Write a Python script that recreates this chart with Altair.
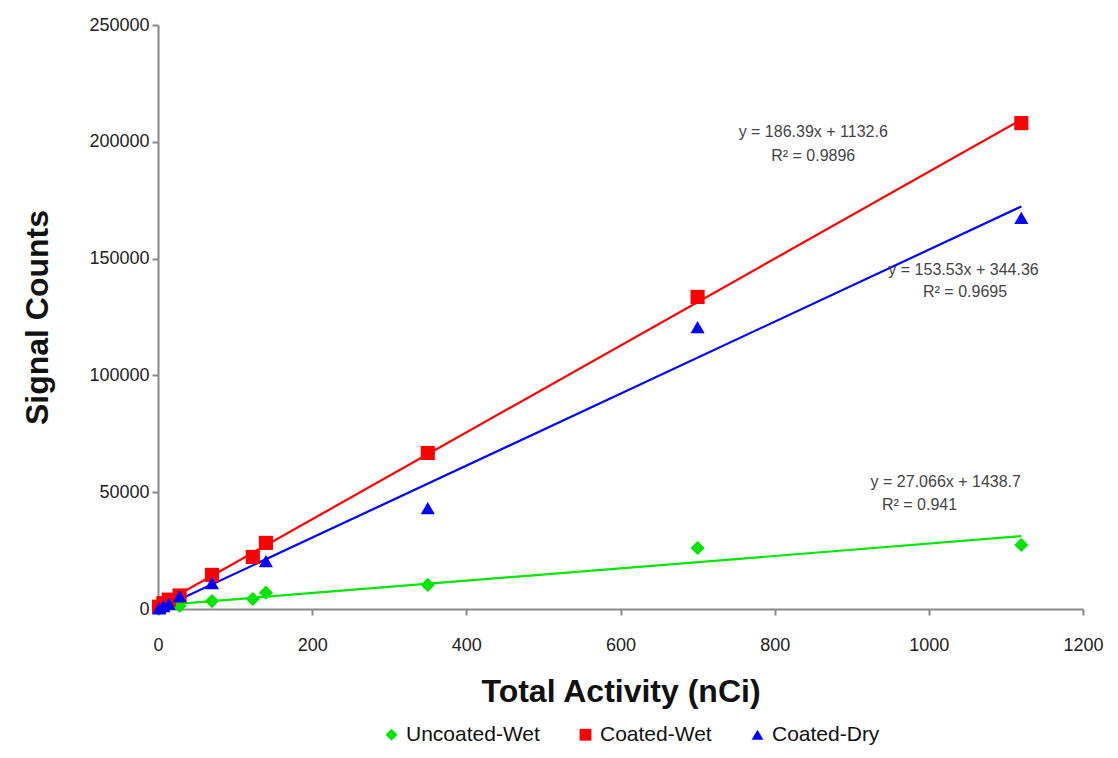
import altair as alt
import pandas as pd

# ---------------- data ----------------
series_order = ["Uncoated-Wet", "Coated-Wet", "Coated-Dry"]
series_colors = ["#00E600", "#FF0000", "#0000FF"]
series_shapes = ["diamond", "square", "triangle-up"]

uncoated_wet_x = [1.4, 7, 28, 70, 123, 140, 350, 700, 1120]
uncoated_wet_y = [400, 800, 1300, 3400, 4300, 7000, 10300, 26100, 27400]

coated_wet_x = [1.4, 7, 14, 28, 70, 123, 140, 350, 700, 1120]
coated_wet_y = [1000, 2500, 4000, 5800, 14600, 22300, 28300, 66800, 133600, 208000]

coated_dry_x = [1.4, 7, 14, 28, 70, 140, 350, 700, 1120]
coated_dry_y = [300, 1200, 2200, 5500, 11100, 20500, 43200, 120700, 167400]

ann_text = ["y = 186.39x + 1132.6", "R\u00b2 = 0.9896",
            "y = 153.53x + 344.36", "R\u00b2 = 0.9695",
            "y = 27.066x + 1438.7", "R\u00b2 = 0.941"]
ann_x = [850, 850, 1045, 1047, 1022, 988]
ann_y = [204000, 194000, 145000, 135500, 54400, 44700]

x_ticks = [0, 200, 400, 600, 800, 1000, 1200]
y_ticks = [0, 50000, 100000, 150000, 200000, 250000]

# ---------------- tables ----------------
rows = []
for name, xs, ys in [("Uncoated-Wet", uncoated_wet_x, uncoated_wet_y),
                     ("Coated-Wet", coated_wet_x, coated_wet_y),
                     ("Coated-Dry", coated_dry_x, coated_dry_y)]:
    col = series_colors[series_order.index(name)]
    for xv, yv in zip(xs, ys):
        rows.append({"series": name, "col": col, "x": xv, "y": yv})
df = pd.DataFrame(rows)
ann = pd.DataFrame({"text": ann_text, "x": ann_x, "y": ann_y})

FONT = "Liberation Sans"

xscale = alt.Scale(domain=[0, 1200], nice=False, zero=True)
yscale = alt.Scale(domain=[0, 250000], nice=False)

xaxis = alt.Axis(values=x_ticks, title="Total Activity (nCi)", grid=False, format="d",
                 labelFontSize=18, labelFont=FONT, labelColor="#222222",
                 titleFontSize=32, titleFont=FONT, titleFontWeight="bold",
                 titleColor="#111111", tickSize=6, tickColor="#888888",
                 domainColor="#888888", domainWidth=2, tickWidth=2,
                 labelPadding=21, titlePadding=22, labelFlush=False)
yaxis = alt.Axis(values=y_ticks, title="Signal Counts", grid=False, format="d",
                 labelFontSize=18, labelFont=FONT, labelColor="#222222",
                 titleFontSize=32, titleFont=FONT, titleFontWeight="bold",
                 titleColor="#111111", tickSize=6, tickColor="#888888",
                 domainColor="#888888", domainWidth=2, tickWidth=2,
                 labelPadding=3, titlePadding=34)

base = alt.Chart(df)

lines = base.transform_regression(
    "x", "y", groupby=["series", "col"], method="linear"
).mark_line(strokeWidth=2.2).encode(
    x=alt.X("x:Q", scale=xscale, axis=xaxis),
    y=alt.Y("y:Q", scale=yscale, axis=yaxis),
    color=alt.Color("col:N", scale=None),
    detail="series:N",
)

points = base.mark_point(filled=True, size=200, opacity=1).encode(
    x=alt.X("x:Q", scale=xscale, axis=xaxis),
    y=alt.Y("y:Q", scale=yscale, axis=yaxis),
    color=alt.Color("series:N",
                    scale=alt.Scale(domain=series_order, range=series_colors),
                    legend=alt.Legend(title=None, orient="none", direction="horizontal",
                                      legendX=223, legendY=699, labelFontSize=21,
                                      labelFont=FONT, labelColor="#111111",
                                      symbolSize=140, labelOffset=4,
                                      columnPadding=35, padding=0,
                                      symbolStrokeWidth=0)),
    shape=alt.Shape("series:N",
                    scale=alt.Scale(domain=series_order, range=series_shapes)),
)

labels = alt.Chart(ann).mark_text(font=FONT, fontSize=16, color="#444444",
                                  align="center", baseline="middle").encode(
    x=alt.X("x:Q", scale=xscale),
    y=alt.Y("y:Q", scale=yscale),
    text="text:N",
)

chart = alt.layer(lines, points, labels).properties(
    width=925, height=584,
    background="white",
    autosize=alt.AutoSizeParams(type="none"),
    padding={"left": 150, "top": 17, "right": 25, "bottom": 140},
).configure_view(strokeWidth=0, stroke="transparent")

chart.save("out.html", embed_options={"renderer": "svg", "actions": False})
